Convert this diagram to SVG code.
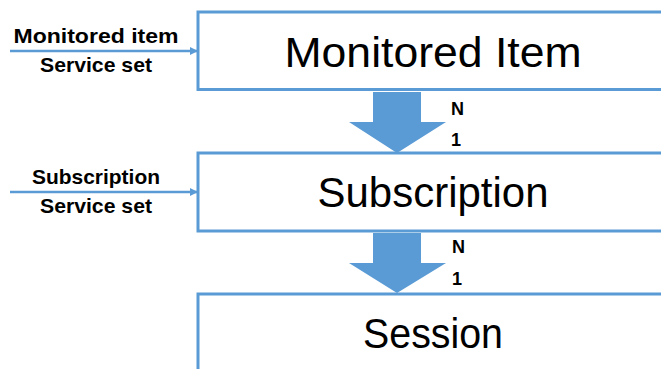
<svg xmlns="http://www.w3.org/2000/svg" width="661" height="369" viewBox="0 0 661 369">
<style>
.box{fill:#fff;stroke:#5B9BD5;stroke-width:3}
.big{font-family:"Liberation Sans",Arial,sans-serif;font-size:42px;fill:#000;text-anchor:middle}
.small{font-family:"Liberation Sans",Arial,sans-serif;font-size:21px;font-weight:bold;fill:#000;text-anchor:middle}
.card{font-family:"Liberation Sans",Arial,sans-serif;font-size:18px;font-weight:bold;fill:#000}
.conn{stroke:#5B9BD5;stroke-width:2.5;fill:none}
.fat{fill:#5B9BD5}
</style>
<defs>
<marker id="ah" markerWidth="8" markerHeight="8" refX="7" refY="4" orient="auto" markerUnits="userSpaceOnUse">
<path d="M0,0 L8,4 L0,8 Z" fill="#5B9BD5"/>
</marker>
</defs>
<rect width="661" height="369" fill="#fff"/>
<g id="monitored-item">
<rect class="box" x="198" y="12" width="520" height="77.5"/>
<text class="big" x="433" y="67" textLength="297" lengthAdjust="spacingAndGlyphs">Monitored Item</text>
</g>
<g id="subscription">
<rect class="box" x="198" y="153" width="520" height="78"/>
<text class="big" x="433" y="207" textLength="231" lengthAdjust="spacingAndGlyphs">Subscription</text>
</g>
<g id="session">
<rect class="box" x="198" y="294" width="520" height="120"/>
<text class="big" x="433" y="348" textLength="140" lengthAdjust="spacingAndGlyphs">Session</text>
</g>
<g id="connectors">
<line class="conn" x1="10" y1="51" x2="197" y2="51" marker-end="url(#ah)"/>
<text class="small" x="96" y="43" textLength="165" lengthAdjust="spacingAndGlyphs">Monitored item</text>
<text class="small" x="96" y="72" textLength="112" lengthAdjust="spacingAndGlyphs">Service set</text>
<line class="conn" x1="10" y1="192" x2="197" y2="192" marker-end="url(#ah)"/>
<text class="small" x="96" y="184" textLength="128" lengthAdjust="spacingAndGlyphs">Subscription</text>
<text class="small" x="96" y="213" textLength="112" lengthAdjust="spacingAndGlyphs">Service set</text>
<path class="fat" d="M373,92 L421,92 L421,122 L446,122 L397,153 L349,122 L373,122 Z"/>
<text class="card" x="451" y="115">N</text>
<text class="card" x="451" y="146">1</text>
<path class="fat" d="M373,233 L421,233 L421,263 L446,263 L397,293 L349,263 L373,263 Z"/>
<text class="card" x="452" y="253">N</text>
<text class="card" x="452" y="285">1</text>
</g>
</svg>
